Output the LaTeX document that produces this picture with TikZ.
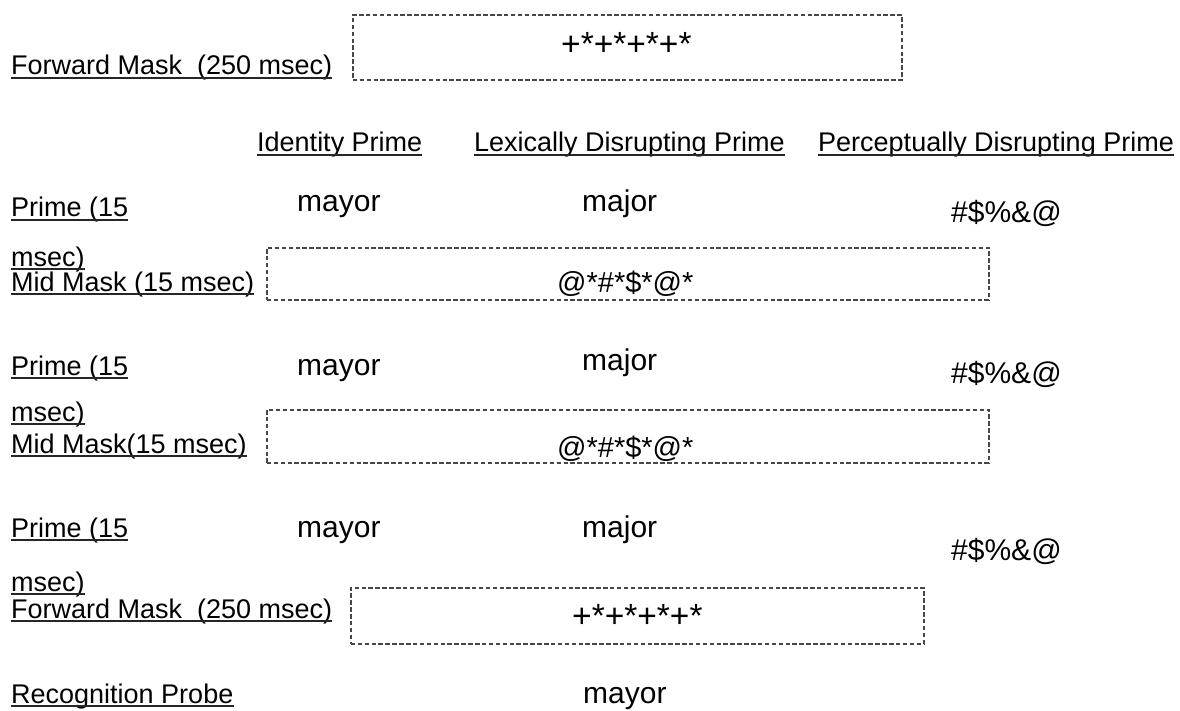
\documentclass[tikz,border=0pt]{standalone}
\usepackage{fontspec}
\setmainfont{Liberation Sans}
\usetikzlibrary{calc}
\tikzset{
  lbl/.style={anchor=base west, inner sep=0pt, font=\fontsize{27}{32}\selectfont},
  word/.style={anchor=base west, inner sep=0pt, font=\fontsize{30}{36}\selectfont},
  plustxt/.style={anchor=base west, inner sep=0pt, font=\fontsize{33.5}{40}\selectfont},
  attxt/.style={anchor=base west, inner sep=0pt, font=\fontsize{29}{36}\selectfont},
  maskbox/.style={draw=black!72, dash pattern=on 4.5pt off 2.4pt, line width=1.6pt,
    anchor=north west, inner sep=0pt},
  ulline/.style={line width=1.5pt, black!85},
}
\newcommand\ulnode[3]{\node[lbl] (#1) at (#2) {#3};
  \draw[ulline] ($(#1.base west)+(0,3)$) -- ($(#1.base east)+(0,3)$);}
\begin{document}
\begin{tikzpicture}[x=1pt, y=-1pt]
\useasboundingbox (0,0) rectangle (1180,711);
% first forward mask
\ulnode{fm1}{11,75}{Forward Mask\ \ (250 msec)}
\node[maskbox, minimum width=549pt, minimum height=65pt] (box1) at (352,14) {};
\node[plustxt] (box1t) at (561,56) {+*+*+*+*};
% headers
\ulnode{hid}{257,152}{Identity Prime}
\ulnode{hlex}{474,152}{Lexically Disrupting Prime}
\ulnode{hper}{818,152}{Perceptually Disrupting Prime}
% row 1
\ulnode{p1a}{11,217}{Prime (15}
\ulnode{p1b}{11,266}{msec)}
\ulnode{mm1}{11,291}{Mid Mask (15 msec)}
\node[word] (w1a) at (297,212) {mayor};
\node[word] (w1b) at (582,212) {major};
\node[word] (w1c) at (951,223) {\#\$\%\&@};
\node[maskbox, minimum width=722pt, minimum height=52pt] (box2) at (266,247) {};
\node[attxt] (box2t) at (557,292) {@*\#*\$*@*};
% row 2
\ulnode{p2a}{11,375}{Prime (15}
\ulnode{p2b}{11,421}{msec)}
\ulnode{mm2}{11,453}{Mid Mask(15 msec)}
\node[word] (w2a) at (297,375) {mayor};
\node[word] (w2b) at (582,370) {major};
\node[word] (w2c) at (951,383) {\#\$\%\&@};
\node[maskbox, minimum width=722pt, minimum height=53pt] (box3) at (266,409) {};
\node[attxt] (box3t) at (557,457) {@*\#*\$*@*};
% row 3
\ulnode{p3a}{11,537}{Prime (15}
\ulnode{p3b}{11,591}{msec)}
\ulnode{fm2}{11,618}{Forward Mask\ \ (250 msec)}
\node[word] (w3a) at (297,537) {mayor};
\node[word] (w3b) at (582,537) {major};
\node[word] (w3c) at (951,560) {\#\$\%\&@};
\node[maskbox, minimum width=573pt, minimum height=56pt] (box4) at (350,587) {};
\node[plustxt] (box4t) at (572,627) {+*+*+*+*};
% probe
\ulnode{rp}{11,703}{Recognition Probe}
\node[word] (w4) at (583,703) {mayor};
\end{tikzpicture}
\end{document}
